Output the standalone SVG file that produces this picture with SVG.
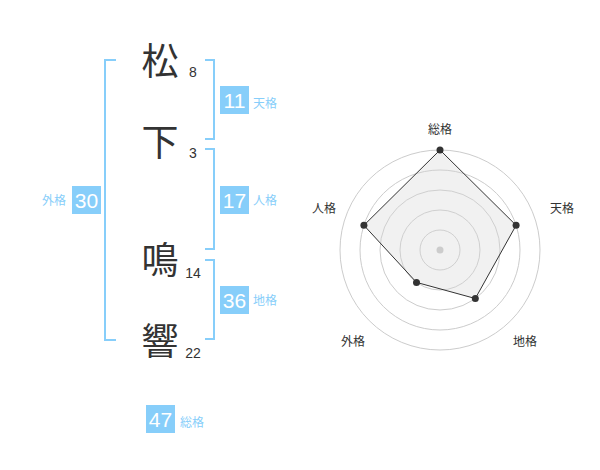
<svg xmlns="http://www.w3.org/2000/svg" width="600" height="470" viewBox="0 0 600 470">
<style>
.kanji{font-family:"Noto Sans CJK JP","Noto Sans CJK SC",sans-serif;font-size:37px;fill:#333;text-anchor:middle}
.stroke{font-family:"Liberation Sans",Arial,sans-serif;font-size:14px;fill:#333;text-anchor:middle}
.br{fill:none;stroke:#87cefa;stroke-width:2}
.box{fill:#87cefa}
.boxnum{font-family:"Liberation Sans",Arial,sans-serif;font-size:21px;fill:#fff;text-anchor:middle}
.lbl{font-family:"Noto Sans CJK JP","Noto Sans CJK SC",sans-serif;font-size:12px;fill:#87cefa}
.rl{font-family:"Noto Sans CJK JP","Noto Sans CJK SC",sans-serif;font-size:12px;fill:#333}
.ring{fill:none;stroke:#cccccc;stroke-width:1}
.pt{fill:#333}
</style>
<rect width="600" height="470" fill="#fff"/>
<g id="name">
  <g id="c1"><text class="kanji" x="160" y="75">松</text><text class="stroke" x="193" y="77">8</text></g>
  <g id="c2"><text class="kanji" x="160" y="156">下</text><text class="stroke" x="193" y="158">3</text></g>
  <g id="c3"><text class="kanji" x="160" y="274">鳴</text><text class="stroke" x="193" y="278">14</text></g>
  <g id="c4"><text class="kanji" x="160" y="355">響</text><text class="stroke" x="193" y="358">22</text></g>
</g>
<g id="connectors">
  <path class="br" d="M116,60 H105 V340 H116"/>
  <path class="br" d="M205,60 H214 V139 H205"/>
  <path class="br" d="M205,149 H214 V249 H205"/>
  <path class="br" d="M205,260 H214 V339 H205"/>
</g>
<g id="tenkaku"><rect class="box" x="220" y="86" width="29" height="28"/><text class="boxnum" x="234.5" y="107.5">11</text><text class="lbl" x="253" y="108">天格</text></g>
<g id="jinkaku"><rect class="box" x="220" y="186" width="29" height="28"/><text class="boxnum" x="234.5" y="207.5">17</text><text class="lbl" x="253" y="205">人格</text></g>
<g id="gaikaku"><rect class="box" x="72" y="186" width="29" height="28"/><text class="boxnum" x="86.5" y="207.5">30</text><text class="lbl" x="66" y="205" text-anchor="end">外格</text></g>
<g id="chikaku"><rect class="box" x="220" y="286" width="29" height="28"/><text class="boxnum" x="234.5" y="307.5">36</text><text class="lbl" x="253" y="305">地格</text></g>
<g id="soukaku"><rect class="box" x="146" y="405" width="29" height="28"/><text class="boxnum" x="160.5" y="426.5">47</text><text class="lbl" x="180" y="427">総格</text></g>
<g id="radar">
  <circle class="ring" cx="440" cy="250" r="20"/>
  <circle class="ring" cx="440" cy="250" r="40"/>
  <circle class="ring" cx="440" cy="250" r="60"/>
  <circle class="ring" cx="440" cy="250" r="80"/>
  <circle class="ring" cx="440" cy="250" r="100"/>
  <polygon points="440,150 516.1,225.3 475.3,298.5 416.5,282.4 363.9,225.3" fill="#d8d8d8" fill-opacity="0.35" stroke="#333" stroke-width="1"/>
  <circle cx="440" cy="250" r="3.5" fill="#cccccc"/>
  <circle class="pt" cx="440" cy="150" r="3.5"/>
  <circle class="pt" cx="516.1" cy="225.3" r="3.5"/>
  <circle class="pt" cx="475.3" cy="298.5" r="3.5"/>
  <circle class="pt" cx="416.5" cy="282.4" r="3.5"/>
  <circle class="pt" cx="363.9" cy="225.3" r="3.5"/>
  <text class="rl" x="440" y="134" text-anchor="middle">総格</text>
  <text class="rl" x="550" y="213">天格</text>
  <text class="rl" x="336" y="213" text-anchor="end">人格</text>
  <text class="rl" x="513" y="346">地格</text>
  <text class="rl" x="341" y="346">外格</text>
</g>
</svg>
